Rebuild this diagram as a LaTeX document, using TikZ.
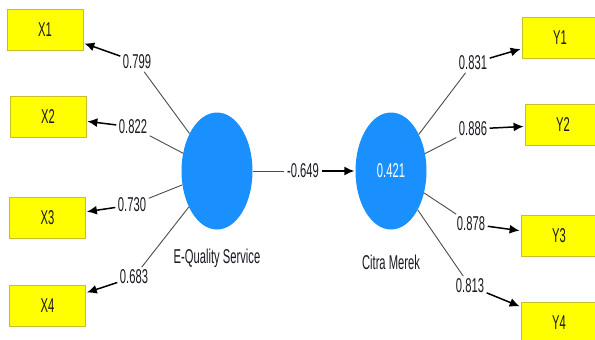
\documentclass[tikz,border=0pt]{standalone}
\usepackage{fontspec}
\newfontfamily\plsfont[FakeStretch=0.56]{Liberation Sans}
\usetikzlibrary{arrows.meta,shapes.geometric}
\definecolor{lvblue}{RGB}{26,144,255}
\definecolor{boxyellow}{RGB}{255,255,0}
\definecolor{boxedge}{RGB}{200,190,40}
\definecolor{txt}{RGB}{25,25,35}
\begin{document}
\begin{tikzpicture}[x=1pt,y=-1pt,
  every node/.style={font=\plsfont\fontsize{20}{22}\selectfont, text=txt},
  indbox/.style={draw=boxedge, fill=boxyellow, line width=0.8pt, minimum width=76pt, minimum height=41pt, inner sep=0pt},
  latent/.style={ellipse, fill=lvblue, minimum width=71pt, minimum height=117pt, inner sep=0pt},
  wlabel/.style={inner sep=2.5pt},
  inner/.style={draw=black!70, line width=0.9pt},
  outer/.style={draw=black, line width=1.5pt, -{Latex[length=10pt,width=9pt]}, shorten >=1pt}]
\clip (0,0) rectangle (595,340);
\fill[white] (0,0) rectangle (595,340);
% latent variables
\node[latent] (eq) at (217,171) {};
\node[latent, text=white] (cm) at (391,171) {0.421};
\node (eqlab) at (217,258) {E-Quality Service};
\node (cmlab) at (391,262) {Citra Merek};
% indicators
\node[indbox] (x1) at (45,29.5) {X1};
\node[indbox] (x2) at (48,116.5) {X2};
\node[indbox] (x3) at (47.5,217.5) {X3};
\node[indbox] (x4) at (47.5,305.5) {X4};
\node[indbox] (y1) at (560,37.5) {Y1};
\node[indbox] (y2) at (563,124.5) {Y2};
\node[indbox] (y3) at (559,236) {Y3};
\node[indbox] (y4) at (559,322.5) {Y4};
% weights
\node[wlabel] (l1) at (137,62) {0.799};
\node[wlabel] (l2) at (133,127) {0.822};
\node[wlabel] (l3) at (132,205) {0.730};
\node[wlabel] (l4) at (134,277) {0.683};
\node[wlabel] (p) at (303,171) {-0.649};
\node[wlabel] (r1) at (473,63) {0.831};
\node[wlabel] (r2) at (473,129) {0.886};
\node[wlabel] (r3) at (471,224) {0.878};
\node[wlabel] (r4) at (470,286) {0.813};
% connectors
\foreach \l/\x in {l1/x1,l2/x2,l3/x3,l4/x4}{
  \draw[inner] (eq) -- (\l);
  \draw[outer] (\l) -- (\x);
}
\foreach \l/\y in {r1/y1,r2/y2,r3/y3,r4/y4}{
  \draw[inner] (cm) -- (\l);
  \draw[outer] (\l) -- (\y);
}
\draw[inner] (eq) -- (p);
\draw[outer] (p) -- (cm);
\end{tikzpicture}
\end{document}
